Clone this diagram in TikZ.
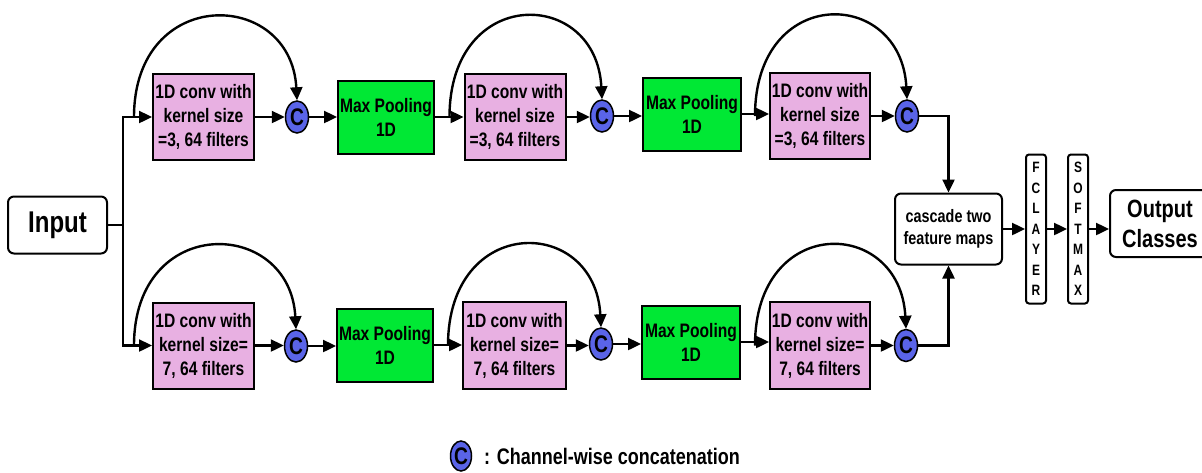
\documentclass[tikz,border=0pt]{standalone}
\usepackage{fontspec}
\setmainfont{Liberation Sans}[FakeStretch=0.8]
\usetikzlibrary{arrows.meta,shapes.geometric,calc}
\definecolor{convpink}{RGB}{232,176,226}
\definecolor{poolgreen}{RGB}{0,232,52}
\definecolor{catblue}{RGB}{90,100,232}

\begin{document}
\begin{tikzpicture}[x=1pt,y=-1pt,
  every node/.style={align=center, inner sep=0pt},
  conv/.style={draw, line width=2pt, fill=convpink, minimum width=101pt, minimum height=86pt,
    font=\bfseries\fontsize{19.5}{24}\selectfont},
  pool/.style={draw, line width=2pt, fill=poolgreen, minimum width=96pt, minimum height=73pt,
    font=\bfseries\fontsize{19.5}{24}\selectfont},
  cat/.style={ellipse, draw, line width=1.5pt, fill=catblue, minimum width=23pt, minimum height=32pt,
    font=\bfseries\fontsize{24}{24}\selectfont},
  rbox/.style={draw, line width=2pt, rounded corners=6pt, fill=white},
  vbox/.style={draw, line width=2pt, rounded corners=3pt, minimum width=20pt, minimum height=149pt,
    font=\bfseries\fontsize{15}{20.5}\selectfont},
  arr/.style={line width=2.4pt, -{Triangle[length=13pt,width=12pt]}},
  ln/.style={line width=2.4pt},
  skip/.style={line width=2.4pt, -{Triangle[length=13pt,width=12pt]}}
]
\useasboundingbox (0,0) rectangle (1202,472);

% input
\node[rbox, minimum width=99pt, minimum height=57pt, font=\bfseries\fontsize{30}{32}\selectfont] (in) at (57.5,225) {Input};
\coordinate (split) at (123,225);

% upper branch (kernel size 3)
\node[conv] (c1a) at (203.5,117) {1D conv with\\kernel size\\=3, 64 filters};
\node[cat]  (k1a) at (297,117) {C};
\node[pool] (p1a) at (386,117) {Max Pooling\\1D};
\node[conv] (c2a) at (515,117) {1D conv with\\kernel size\\=3, 64 filters};
\node[cat]  (k2a) at (602,116) {C};
\node[pool, minimum width=98pt] (p2a) at (692,114) {Max Pooling\\1D};
\node[conv, minimum width=100pt] (c3a) at (820,116) {1D conv with\\kernel size\\=3, 64 filters};
\node[cat]  (k3a) at (907,116) {C};

% lower branch (kernel size 7)
\node[conv] (c1b) at (203.5,345.5) {1D conv with\\kernel size=\\7, 64 filters};
\node[cat]  (k1b) at (296,346) {C};
\node[pool] (p1b) at (385,345) {Max Pooling\\1D};
\node[conv, minimum width=103pt, minimum height=87pt] (c2b) at (514.5,345.5) {1D conv with\\kernel size=\\7, 64 filters};
\node[cat]  (k2b) at (601,344) {C};
\node[pool, minimum width=98pt] (p2b) at (691,342) {Max Pooling\\1D};
\node[conv, minimum width=100pt, minimum height=87pt] (c3b) at (820,345.5) {1D conv with\\kernel size=\\7, 64 filters};
\node[cat]  (k3b) at (906,345.5) {C};

% fusion and classifier
\node[rbox, minimum width=107pt, minimum height=71pt, font=\bfseries\fontsize{18}{22.5}\selectfont] (casc) at (948.5,229) {cascade two\\feature maps};
\node[vbox] (fc) at (1036,229) {F\\C\\L\\A\\Y\\E\\R};
\node[vbox] (sm) at (1078,229) {S\\O\\F\\T\\M\\A\\X};
\node[rbox, minimum width=100pt, minimum height=67pt, font=\bfseries\fontsize{25}{30}\selectfont] (out) at (1160,223.5) {Output\\Classes};

% legend
\node[cat, minimum width=21pt, minimum height=30pt] (lk) at (461,456) {C};
\node[anchor=west, font=\bfseries\fontsize{22.5}{24}\selectfont] (lt) at (484,456) {: Channel-wise concatenation};

% input split
\draw[ln] (in.east) -- (split);
\draw[arr] (split) |- (c1a.west);
\draw[arr] (split) |- (c1b.west);

% chain connectors
\foreach \r in {a,b}{
  \draw[arr] (c1\r.east) -- (c1\r.east -| k1\r.west);
  \draw[arr] (k1\r.east) -- (k1\r.east -| p1\r.west);
  \draw[arr] (p1\r.east) -- (p1\r.east -| c2\r.west);
  \draw[arr] (c2\r.east) -- (c2\r.east -| k2\r.west);
  \draw[arr] (k2\r.east) -- (k2\r.east -| p2\r.west);
  \draw[arr] (p2\r.east) -- (p2\r.east -| c3\r.west);
  \draw[arr] (c3\r.east) -- (c3\r.east -| k3\r.west);
}

% skip connections into the concatenation nodes
\foreach \r in {a,b}{
  \coordinate (s1\r) at ($(c1\r.west)+(-18,0)$);
  \coordinate (s2\r) at ($(c2\r.west)+(-14,0)$);
  \coordinate (s3\r) at ($(c3\r.west)+(-14,0)$);
  \draw[skip] (s1\r) .. controls +(0,-132) and +(-6,-112) .. (k1\r.north);
  \draw[skip] (s2\r) .. controls +(0,-132) and +(-6,-112) .. (k2\r.north);
  \draw[skip] (s3\r) .. controls +(0,-132) and +(-6,-112) .. (k3\r.north);
}

% merge and classify
\draw[arr] (k3a.east) -| (casc.north);
\draw[arr] (k3b.east) -| (casc.south);
\draw[arr] (casc.east) -- (fc.west);
\draw[arr] (fc.east) -- (sm.west);
\draw[arr] (sm.east) -- (sm.east -| out.west);
\end{tikzpicture}
\end{document}
